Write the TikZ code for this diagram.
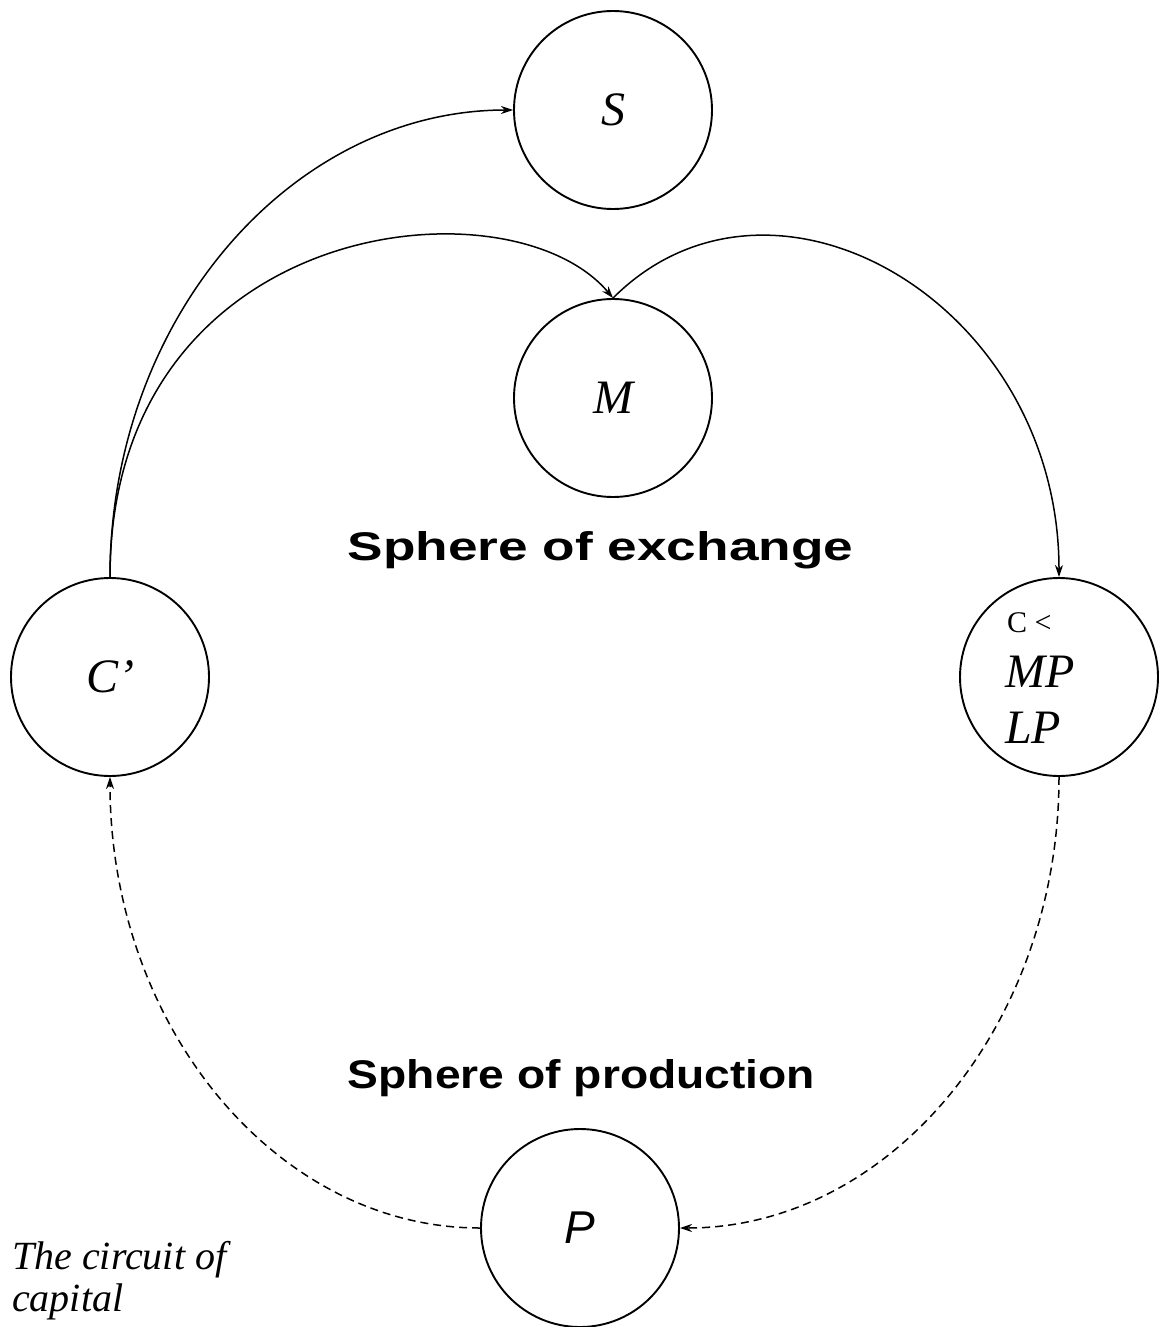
\documentclass[tikz,border=0pt]{standalone}
\usepackage{fontspec}
\setmainfont{Liberation Serif}
\newfontfamily\arialfont{Liberation Sans}
\usetikzlibrary{arrows.meta}

\begin{document}
\begin{tikzpicture}[
	x = 1pt, y = 1pt,
	>={Stealth[length=12pt, width=8pt]},
	circ/.style={circle, draw, line width=1.9pt, minimum size=198pt, inner sep=0pt, font=\fontsize{48}{56}\selectfont\itshape},
	link/.style={->, line width=1.5pt},
	dashlink/.style={->, line width=1.5pt, dash pattern=on 8pt off 5pt},
	sphere/.style={font=\arialfont\bfseries\fontsize{40}{48}\selectfont, anchor=base, inner sep=0pt, transform shape},
	mptext/.style={anchor=base west, inner sep=0pt, font=\fontsize{48}{56}\selectfont\itshape},
	]

	\useasboundingbox (0,0) rectangle (1159,-1327);

	\node[circ] (S) at (613,-110) {S};
	\node[circ] (M) at (613,-398) {M};
	\node[circ] (Cp) at (110,-677) {C’};
	\node[circ] (Cmp) at (1059,-677) {};
	\node[circ, font=\arialfont\fontsize{46}{54}\selectfont\itshape] (P) at (580,-1228) {P};

	\node[anchor=base west, inner sep=0pt, font=\fontsize{30}{36}\selectfont] (Cless) at (1007,-632) {C <};
	\node[mptext] (MP) at (1005,-687) {MP};
	\node[mptext] (LP) at (1005,-743) {LP};

	\node[sphere, xscale=1.33] (Exch) at (600.5,-560) {Sphere of exchange};
	\node[sphere, xscale=1.155] (Prod) at (581.5,-1088) {Sphere of production};

	\node[anchor=north west, align=left, inner sep=0pt, font=\fontsize{40}{42}\selectfont\itshape] (Caption) at (12,-1241) {The circuit of\\capital};

	\draw[link] (Cp.north) .. controls +(0,258) and +(-222,0) .. (S.west);
	\draw[link] (Cp.north) .. controls +(0,360) and +(-103,123) .. (M.north);
	\draw[link] (M.north) .. controls +(160,160) and +(0,274) .. (Cmp.north);

	\draw[dashlink] (Cmp.south) .. controls +(0,-249) and +(209,0) .. (P.east);
	\draw[dashlink] (P.west) .. controls +(-204,0) and +(0,-249) .. (Cp.south);

\end{tikzpicture}
\end{document}
